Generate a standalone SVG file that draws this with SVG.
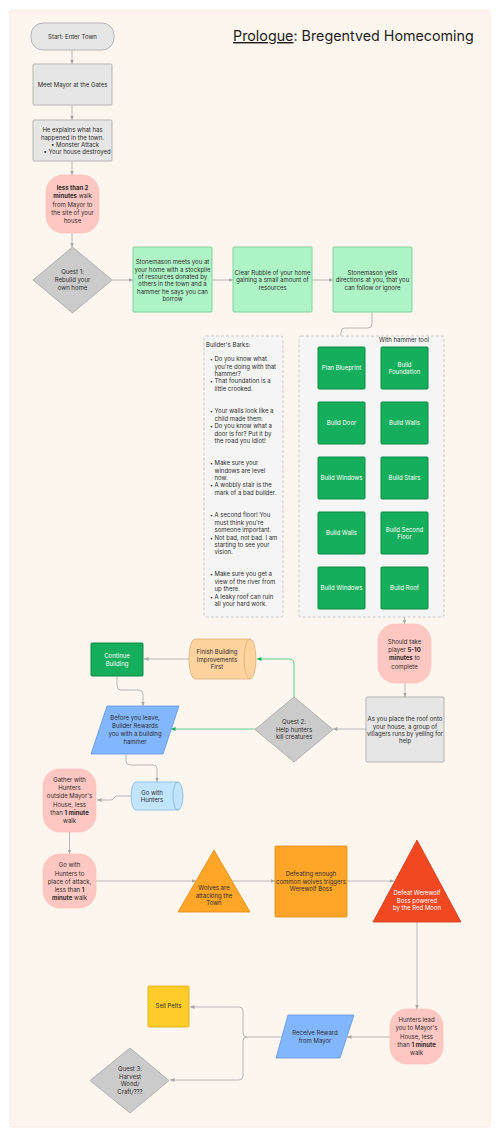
<svg xmlns="http://www.w3.org/2000/svg" width="500" height="1137" viewBox="0 0 500 1137">
<defs>
<marker id="ar" markerWidth="5" markerHeight="5" refX="4.5" refY="2.5" orient="auto" markerUnits="userSpaceOnUse"><path d="M0,0.5 L4.5,2.5 L0,4.5 z" fill="#a8a8a8"/></marker>
<marker id="arg" markerWidth="5" markerHeight="5" refX="4.5" refY="2.5" orient="auto" markerUnits="userSpaceOnUse"><path d="M0,0.5 L4.5,2.5 L0,4.5 z" fill="#14ae5c"/></marker>
<style>
text{font-family:Inter,"Liberation Sans",sans-serif;font-size:6px;fill:#2c2c2c}
.c{text-anchor:middle}
.w{fill:#ffffff}
.b{font-weight:bold}
.grey{fill:#e6e6e6;stroke:#b5b5b5;stroke-width:1}
.dia{fill:#cccbcb;stroke:#a6a6a6;stroke-width:0.8}
.pink{fill:#ffc7c2;stroke:#ffb3ab;stroke-width:0.5}
.lg{fill:#aff4c6;stroke:#7fd49f;stroke-width:1}
.dg{fill:#14ae5c;stroke:#0d8c47;stroke-width:1}
.dash{fill:#f5f5f5;stroke:#c2c2c2;stroke-width:0.8;stroke-dasharray:3 2}
.cn{fill:none;stroke:#b8b8b8;stroke-width:1;marker-end:url(#ar)}
.cg{fill:none;stroke:#5dd08f;stroke-width:1;marker-end:url(#arg)}
.bu{font-size:5px}
</style>
</defs>
<rect x="10" y="10" width="480" height="1117" rx="3" fill="#fdf6ee" stroke="#f8eadb" stroke-width="1"/>
<text x="233" y="41" style="font-size:14.3px;fill:#1e1e1e"><tspan text-decoration="underline">Prologue</tspan>: Bregentved Homecoming</text>

<g id="connectors">
<path class="cn" d="M72,50 V64"/>
<path class="cn" d="M72,105 V120"/>
<path class="cn" d="M72,161 V175"/>
<path class="cn" d="M72,233 V247"/>
<path class="cn" d="M112,280 H133"/>
<path class="cn" d="M212,280 H233"/>
<path class="cn" d="M312,280 H333"/>
<path class="cn" d="M372,312 V324 Q372,328 368,328 H345 Q341,328 341,332 V347"/>
<path class="cn" d="M365,368 H381"/>
<path class="cn" d="M404.5,389 V402"/>
<path class="cn" d="M381,423 H365"/>
<path class="cn" d="M341.5,444 V457"/>
<path class="cn" d="M365,478 H381"/>
<path class="cn" d="M404.5,499 V512"/>
<path class="cn" d="M381,533 H365"/>
<path class="cn" d="M341.5,554 V567"/>
<path class="cn" d="M365,588 H381"/>
<path class="cn" d="M404.5,609 V624"/>
<path class="cn" d="M405,683 V697"/>
<path class="cn" d="M366,729 H333"/>
<path class="cg" d="M294,697 V664 Q294,659 289,659 H257"/>
<path class="cg" d="M255,729 H171"/>
<path class="cn" d="M189,659 H144"/>
<path class="cn" d="M117,676 V686 Q117,690 121,690 H139 Q143,690 143,694 V706"/>
<path class="cn" d="M126,754 V761 Q126,765 130,765 H153 Q157,765 157,769 V782"/>
<path class="cn" d="M131,796 H117 C114,796 114,800 111,800 H97"/>
<path class="cn" d="M69.5,832 V854"/>
<path class="cn" d="M96,881 H196"/>
<path class="cn" d="M232,881 H275"/>
<path class="cn" d="M347,881 H394"/>
<path class="cn" d="M417,922 V1009"/>
<path class="cn" d="M390,1037 H347"/>
<path class="cn" d="M282,1037 H247 Q243,1037 243,1033 V1011 Q243,1007 239,1007 H190"/>
<path class="cn" d="M247,1037 Q243,1037 243,1041 V1076 Q243,1080 239,1080 H170"/>
</g>

<g id="start"><rect class="grey" x="31" y="23" width="83" height="27" rx="12"/><text class="c" x="72.5" y="39">Start: Enter Town</text></g>
<g id="meet-mayor"><rect class="grey" x="33" y="64" width="79" height="41" rx="1"/><text class="c" x="72.5" y="87">Meet Mayor at the Gates</text></g>
<g id="explains"><rect class="grey" x="33" y="120" width="79" height="41" rx="1"/>
<text class="c" x="72.5" y="132">He explains what has</text>
<text class="c" x="72.5" y="139.5">happened in the town.</text>
<text class="c" x="75" y="146.5">• Monster Attack</text>
<text class="c" x="77" y="154">• Your house destroyed</text></g>
<g id="walk-to-house"><rect class="pink" x="46" y="175" width="53" height="58" rx="17"/>
<text class="c" x="72.5" y="190"><tspan class="b">less than 2</tspan></text>
<text class="c" x="72.5" y="198"><tspan class="b">minutes</tspan> walk</text>
<text class="c" x="72.5" y="206.5">from Mayor to</text>
<text class="c" x="72.5" y="215">the site of your</text>
<text class="c" x="72.5" y="223">house</text></g>
<g id="quest1"><polygon class="dia" points="72.5,247 112,280 72.5,313 33,280"/>
<text class="c" x="72.5" y="274">Quest 1:</text>
<text class="c" x="72.5" y="282">Rebuild your</text>
<text class="c" x="72.5" y="289.5">own home</text></g>
<g id="stonemason-meets"><rect class="lg" x="133" y="247" width="79" height="65" rx="1"/>
<text class="c" x="172.5" y="264">Stonemason meets you at</text>
<text class="c" x="172.5" y="271.5">your home with a stockpile</text>
<text class="c" x="172.5" y="278.5">of resources donated by</text>
<text class="c" x="172.5" y="286">others in the town and a</text>
<text class="c" x="172.5" y="293.5">hammer he says you can</text>
<text class="c" x="172.5" y="301">borrow</text></g>
<g id="clear-rubble"><rect class="lg" x="233" y="247" width="79" height="65" rx="1"/>
<text class="c" x="272.5" y="275">Clear Rubble of your home</text>
<text class="c" x="272.5" y="282">gaining a small amount of</text>
<text class="c" x="272.5" y="289.5">resources</text></g>
<g id="stonemason-yells"><rect class="lg" x="333" y="247" width="79" height="65" rx="1"/>
<text class="c" x="372.5" y="275">Stonemason yells</text>
<text class="c" x="372.5" y="282">directions at you, that you</text>
<text class="c" x="372.5" y="289.5">can follow or ignore</text></g>

<g id="builders-barks"><rect class="dash" x="204" y="336" width="79" height="281" rx="2"/>
<text x="206" y="347">Builder's Barks:</text>
<text class="bu" x="210" y="361">•</text><text x="214.5" y="361">Do you know what</text>
<text x="214.5" y="368.5">you're doing with that</text>
<text x="214.5" y="376">hammer?</text>
<text class="bu" x="210" y="383">•</text><text x="214.5" y="383">That foundation is a</text>
<text x="214.5" y="391">little crooked.</text>
<text class="bu" x="210" y="413">•</text><text x="214.5" y="413">Your walls look like a</text>
<text x="214.5" y="420.5">child made them.</text>
<text class="bu" x="210" y="428">•</text><text x="214.5" y="428">Do you know what a</text>
<text x="214.5" y="435.5">door is for? Put it by</text>
<text x="214.5" y="443">the road you idiot!</text>
<text class="bu" x="210" y="465">•</text><text x="214.5" y="465">Make sure your</text>
<text x="214.5" y="472.5">windows are level</text>
<text x="214.5" y="479.5">now.</text>
<text class="bu" x="210" y="487">•</text><text x="214.5" y="487">A wobbly stair is the</text>
<text x="214.5" y="494.5">mark of a bad builder.</text>
<text class="bu" x="210" y="517">•</text><text x="214.5" y="517">A second floor! You</text>
<text x="214.5" y="524.5">must think you're</text>
<text x="214.5" y="532">someone important.</text>
<text class="bu" x="210" y="539.5">•</text><text x="214.5" y="539.5">Not bad, not bad. I am</text>
<text x="214.5" y="547">starting to see your</text>
<text x="214.5" y="554">vision.</text>
<text class="bu" x="210" y="576">•</text><text x="214.5" y="576">Make sure you get a</text>
<text x="214.5" y="583.5">view of the river from</text>
<text x="214.5" y="591">up there.</text>
<text class="bu" x="210" y="598.5">•</text><text x="214.5" y="598.5">A leaky roof can ruin</text>
<text x="214.5" y="606">all your hard work.</text></g>

<g id="hammer-tool"><rect class="dash" x="299" y="336" width="145" height="281" rx="2"/>
<text class="c" x="404" y="342">With hammer tool</text></g>
<g id="plan-blueprint"><rect class="dg" x="318" y="347" width="47" height="42" rx="1"/><text class="c w" x="341.5" y="370">Plan Blueprint</text></g>
<g id="build-foundation"><rect class="dg" x="381" y="347" width="47" height="42" rx="1"/><text class="c w" x="404.5" y="366.5">Build</text><text class="c w" x="404.5" y="374">Foundation</text></g>
<g id="build-walls-1"><rect class="dg" x="381" y="402" width="47" height="42" rx="1"/><text class="c w" x="404.5" y="425">Build Walls</text></g>
<g id="build-door"><rect class="dg" x="318" y="402" width="47" height="42" rx="1"/><text class="c w" x="341.5" y="425">Build Door</text></g>
<g id="build-windows-1"><rect class="dg" x="318" y="457" width="47" height="42" rx="1"/><text class="c w" x="341.5" y="480">Build Windows</text></g>
<g id="build-stairs"><rect class="dg" x="381" y="457" width="47" height="42" rx="1"/><text class="c w" x="404.5" y="480">Build Stairs</text></g>
<g id="build-second-floor"><rect class="dg" x="381" y="512" width="47" height="42" rx="1"/><text class="c w" x="404.5" y="531.5">Build Second</text><text class="c w" x="404.5" y="539">Floor</text></g>
<g id="build-walls-2"><rect class="dg" x="318" y="512" width="47" height="42" rx="1"/><text class="c w" x="341.5" y="535">Build Walls</text></g>
<g id="build-windows-2"><rect class="dg" x="318" y="567" width="47" height="42" rx="1"/><text class="c w" x="341.5" y="590">Build Windows</text></g>
<g id="build-roof"><rect class="dg" x="381" y="567" width="47" height="42" rx="1"/><text class="c w" x="404.5" y="590">Build Roof</text></g>

<g id="should-take"><rect class="pink" x="378" y="624" width="53" height="59" rx="17"/>
<text class="c" x="404.5" y="644">Should take</text>
<text class="c" x="404.5" y="652">player <tspan class="b">5-10</tspan></text>
<text class="c" x="404.5" y="660"><tspan class="b">minutes</tspan> to</text>
<text class="c" x="404.5" y="668.5">complete</text></g>
<g id="place-roof"><rect class="grey" x="366" y="697" width="78" height="65" rx="1"/>
<text class="c" x="405" y="721">As you place the roof onto</text>
<text class="c" x="405" y="728.5">your house, a group of</text>
<text class="c" x="405" y="735.5">villagers runs by yelling for</text>
<text class="c" x="405" y="743">help</text></g>
<g id="quest2"><polygon class="dia" points="294,697 333,729.5 294,762 255,729.5"/>
<text class="c" x="294" y="724">Quest 2:</text>
<text class="c" x="294" y="731.5">Help hunters</text>
<text class="c" x="294" y="739">kill creatures</text></g>
<g id="finish-building"><path d="M195,639 H250 A6,20 0 0 1 250,679 H195 A6,20 0 0 1 195,639 Z" fill="#ffd39e" stroke="#dcae74" stroke-width="0.8"/>
<path d="M250,639 A6,20 0 0 0 250,679" fill="none" stroke="#dcae74" stroke-width="0.8"/>
<text class="c" x="217" y="654">Finish Building</text>
<text class="c" x="217" y="661.5">Improvements</text>
<text class="c" x="217" y="668.5">First</text></g>
<g id="continue-building"><rect class="dg" x="91" y="643" width="52" height="33" rx="1"/>
<text class="c w" x="117" y="658">Continue</text><text class="c w" x="117" y="665.5">Building</text></g>
<g id="builder-rewards"><polygon points="107,706 179,706 163,754 91,754" fill="#82b6ff" stroke="#6197e6" stroke-width="0.8" stroke-linejoin="round"/>
<text class="c" x="135" y="719.5">Before you leave,</text>
<text class="c" x="135" y="727.5">Builder Rewards</text>
<text class="c" x="135" y="736">you with a building</text>
<text class="c" x="135" y="744">hammer</text></g>
<g id="go-with-hunters"><path d="M136,782 H178 A5,14 0 0 1 178,810 H136 A5,14 0 0 1 136,782 Z" fill="#c2e5ff" stroke="#7db6e0" stroke-width="0.8"/>
<path d="M178,782 A5,14 0 0 0 178,810" fill="none" stroke="#7db6e0" stroke-width="0.8"/>
<text class="c" x="152" y="794.5">Go with</text><text class="c" x="152" y="802">Hunters</text></g>
<g id="gather-hunters"><rect class="pink" x="43" y="769" width="53" height="63" rx="17"/>
<text class="c" x="69.5" y="782">Gather with</text>
<text class="c" x="69.5" y="790">Hunters</text>
<text class="c" x="69.5" y="798">outside Mayor's</text>
<text class="c" x="69.5" y="806.5">House, less</text>
<text class="c" x="69.5" y="815">than <tspan class="b">1 minute</tspan></text>
<text class="c" x="69.5" y="823">walk</text></g>
<g id="go-to-attack"><rect class="pink" x="43" y="854" width="53" height="54" rx="17"/>
<text class="c" x="69.5" y="867">Go with</text>
<text class="c" x="69.5" y="875.5">Hunters to</text>
<text class="c" x="69.5" y="883.5">place of attack,</text>
<text class="c" x="69.5" y="891.5">less than <tspan class="b">1</tspan></text>
<text class="c" x="69.5" y="900"><tspan class="b">minute</tspan> walk</text></g>
<g id="wolves-attacking"><polygon points="214,850 250,912 178,912" fill="#ffa629" stroke="#e08c14" stroke-width="0.8" stroke-linejoin="round"/>
<text class="c" x="214" y="890">Wolves are</text>
<text class="c" x="214" y="897.5">attacking the</text>
<text class="c" x="214" y="905">Town</text></g>
<g id="defeating-wolves"><rect x="275" y="846" width="72" height="71" rx="1" fill="#ffa629" stroke="#e08c14" stroke-width="0.8"/>
<text class="c" x="311" y="876">Defeating enough</text>
<text class="c" x="311" y="883.5">common wolves triggers</text>
<text class="c" x="311" y="890.5">Werewolf Boss</text></g>
<g id="werewolf-boss"><polygon points="417,840 461,922 373,922" fill="#f24822" stroke="#c93a1a" stroke-width="0.8" stroke-linejoin="round"/>
<text class="c w" x="417" y="895">Defeat Werewolf</text>
<text class="c w" x="417" y="902.5">Boss powered</text>
<text class="c w" x="417" y="909.5">by the Red Moon</text></g>
<g id="hunters-lead"><rect class="pink" x="390" y="1009" width="53" height="55" rx="17"/>
<text class="c" x="416.5" y="1022">Hunters lead</text>
<text class="c" x="416.5" y="1030">you to Mayor's</text>
<text class="c" x="416.5" y="1038.5">House, less</text>
<text class="c" x="416.5" y="1047">than <tspan class="b">1 minute</tspan></text>
<text class="c" x="416.5" y="1055">walk</text></g>
<g id="receive-reward"><polygon points="288,1015 354,1015 340,1058 276,1058" fill="#82b6ff" stroke="#6197e6" stroke-width="0.8" stroke-linejoin="round"/>
<text class="c" x="315" y="1035">Receive Reward</text>
<text class="c" x="315" y="1042.5">from Mayor</text></g>
<g id="sell-pelts"><rect x="148" y="986" width="41" height="41" rx="1" fill="#ffcd29" stroke="#e0aa12" stroke-width="0.8"/>
<text class="c" x="168.5" y="1008">Sell Pelts</text></g>
<g id="quest3"><polygon class="dia" points="130,1048 169,1080.5 130,1113 90,1080.5"/>
<text class="c" x="130" y="1071">Quest 3:</text>
<text class="c" x="130" y="1079">Harvest</text>
<text class="c" x="130" y="1086">Wood/</text>
<text class="c" x="130" y="1094">Craft/???</text></g>
</svg>
